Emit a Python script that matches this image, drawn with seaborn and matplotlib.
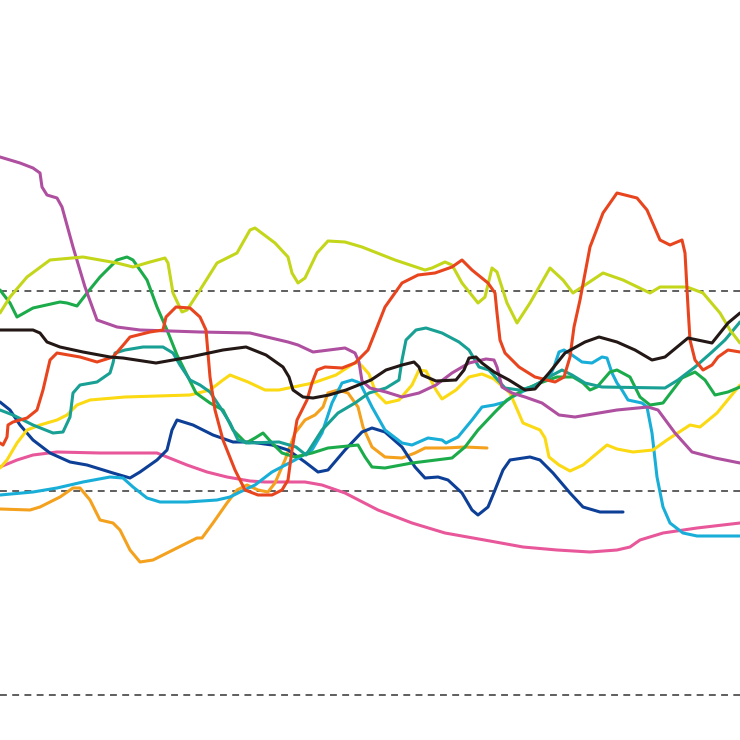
import matplotlib
matplotlib.use("Agg")
import matplotlib.pyplot as plt
import seaborn as sns

# x = week index, y = index value (reference lines at 100, 0, -102)
purple_x = [0, 2.0, 3.3, 4.0, 4.2, 4.7, 5.7, 6.2, 7.3, 8.5, 9.7, 11.7, 14.0, 20.0, 25.0, 28.8, 29.8, 31.3, 34.5, 35.5,
            35.9, 36.2, 37.0, 38.6, 40.2, 41.9, 43.6, 45.2, 46.9, 48.6, 49.4, 49.7, 50.2, 51.2, 52.5, 54.2, 55.9, 57.5,
            61.7, 64.8, 65.8, 67.5, 69.2, 71.5, 74.0]
purple_y = [167, 164, 161.5, 159, 152, 148, 146.5, 142, 122, 102, 85.5, 82, 80.5, 79.5, 79, 74.5, 73, 69.5, 71.5, 69,
            64.5, 55, 51.5, 49.5, 47, 49, 53, 59, 64, 66, 65.5, 62, 52, 49, 47, 44, 38, 37,
            40.5, 42, 40.5, 29, 19.5, 16.5, 14]

lime_x = [0, 1.0, 2.7, 5.0, 8.3, 11.7, 13.3, 15.0, 16.5, 16.8, 17.3, 18.2, 18.7, 20.0, 21.7, 23.7, 25.0, 25.5, 27.5,
          28.8, 29.2, 29.8, 30.5, 31.7, 32.8, 34.5, 36.2, 39.5, 42.5, 43.2, 44.5, 45.2, 46.2, 47.8, 48.5, 49.2, 49.7,
          50.7, 51.7, 53.0, 55.0, 56.3, 57.3, 60.3, 62.3, 65.0, 66.0, 68.7, 70.3, 72.0, 73.0, 74.0]
lime_y = [89, 97, 107, 115.5, 117, 114, 112, 114.5, 116.5, 114, 99, 89.5, 90.5, 100.5, 114, 119, 130.5, 131.5, 124,
          117, 109, 104, 106.5, 119, 125, 124.5, 122, 115.5, 110.5, 111.5, 114.5, 113, 104, 94, 97, 111.5, 109.5,
          94, 84, 94, 111.5, 105.5, 99, 109, 105.5, 99, 102, 102, 99, 89, 80.5, 74]

red_x = [0, 0.3, 0.7, 0.8, 1.3, 2.7, 3.7, 4.3, 5.0, 5.7, 8.0, 9.7, 11.3, 12.5, 13.0, 15.0, 16.3, 16.6, 17.6, 19.0,
         20.0, 20.6, 21.0, 21.5, 22.3, 23.5, 24.5, 25.8, 27.2, 28.2, 28.8, 29.2, 29.7, 30.7, 31.2, 31.7, 32.5, 34.2,
         35.5, 36.8, 37.2, 38.5, 40.2, 41.8, 43.5, 45.2, 46.2, 47.2, 48.8, 49.5, 49.7, 50.0, 50.5, 51.9, 53.5, 55.5,
         56.4, 57.0, 57.4, 58.0, 59.0, 60.3, 61.7, 63.7, 64.7, 66.0, 67.0, 68.2, 68.5, 68.8, 69.0, 69.5, 70.3, 71.2,
         71.8, 72.8, 74.0]
red_y = [24, 23, 27, 33, 34.5, 36.5, 40.5, 50.5, 65.5, 69, 67, 64.5, 67, 74, 77, 79.5, 80.5, 87, 92, 91.5,
         87, 80.5, 57, 40.5, 25.5, 10.5, 0.5, -2, -2, 0.5, 5.5, 20.5, 35.5, 45.5, 54, 60.5, 62, 61.5,
         64, 70.5, 75.5, 92, 104, 108, 109, 112, 115.5, 110.5, 104, 99, 89, 75.5, 69, 62, 57, 54.5,
         57, 67, 82, 95.5, 122, 139, 149, 146.5, 140.5, 125.5, 123, 125.5, 119, 92, 75.5, 65.5, 60.5, 63,
         67, 70.5, 69.5]

black_x = [0, 3.3, 4.0, 4.7, 6.0, 8.3, 11.0, 12.3, 15.6, 19.0, 22.3, 24.6, 26.6, 28.3, 28.9, 29.3, 30.3, 31.3, 32.9,
           34.6, 37.1, 38.6, 40.2, 41.4, 41.9, 42.2, 43.6, 45.6, 46.4, 46.9, 47.6, 48.2, 49.4, 50.9, 52.5, 53.5, 54.9,
           56.5, 58.5, 59.9, 61.7, 63.5, 65.2, 66.5, 68.8, 71.2, 72.8, 74.0]
black_y = [80.5, 80.5, 79, 74.5, 72, 69.5, 67, 66.5, 64, 67, 70.5, 72, 68, 62, 57, 50.5, 47, 46.5, 48,
           50.5, 55.5, 60.5, 63, 64.5, 62, 58, 55, 55.5, 60.5, 66.5, 67, 64, 59.5, 55.5, 50.5, 51, 59,
           69, 74.5, 77, 74.5, 70.5, 65.5, 67, 76.5, 74, 84, 89]

teal_x = [0, 1.3, 3.3, 5.3, 6.3, 7.0, 7.3, 8.0, 9.7, 11.0, 11.3, 11.5, 12.5, 14.3, 16.3, 17.3, 18.0, 19.0, 20.0, 21.0,
          22.0, 23.0, 23.8, 24.8, 27.9, 29.6, 30.6, 32.2, 33.8, 35.5, 36.9, 38.6, 39.9, 40.2, 40.6, 41.6, 42.6, 44.2,
          45.9, 46.9, 47.9, 48.9, 50.5, 51.9, 53.2, 54.9, 56.2, 57.2, 58.5, 60.2, 66.5, 67.8, 69.5, 71.2, 72.5, 74.0]
teal_y = [40.5, 38, 33, 29, 29.5, 37, 49, 53, 54.5, 59, 64, 69, 70.5, 72, 72, 69, 63, 55.5, 53, 49.5,
          42, 34, 25.5, 24, 24.5, 22, 18, 30.5, 39, 44, 49, 51.5, 55.5, 65.5, 75.5, 80.5, 81.5, 79,
          74.5, 70.5, 62, 60.5, 51.5, 50.5, 52, 57, 60.5, 58, 54, 52, 51.5, 55.5, 62, 69.5, 75.5, 84.5]

green_x = [0, 1.0, 1.7, 3.3, 6.0, 6.7, 7.7, 8.7, 10.0, 11.7, 12.7, 13.3, 14.7, 15.7, 16.7, 17.7, 18.6, 19.6, 21.0,
           22.3, 23.3, 24.6, 25.5, 26.3, 27.2, 28.2, 29.5, 31.2, 32.8, 35.8, 36.5, 37.2, 38.5, 41.2, 45.2, 46.5, 47.8,
           49.5, 50.7, 52.3, 54.0, 55.7, 57.3, 58.3, 59.0, 59.7, 61.0, 61.7, 63.0, 64.0, 65.0, 66.3, 68.2, 69.5, 70.5,
           71.5, 72.8, 74.0]
green_y = [100.5, 94, 87, 91.5, 94.5, 94, 92.5, 99, 107, 115.5, 117, 115.5, 105.5, 92, 80.5, 68, 59, 49, 44,
           40.5, 30.5, 24, 26.5, 29, 24, 19, 17, 19, 21.5, 23, 17, 12, 11.5, 14, 16.5, 22, 30.5,
           39.5, 45.5, 50.5, 54, 57, 57, 54, 50.5, 52, 59.5, 60.5, 57, 47, 43, 44, 56.5, 59.5, 55.5,
           48, 49.5, 52]

yellow_x = [0, 0.7, 1.7, 2.7, 4.0, 5.7, 6.7, 7.7, 9.0, 12.5, 19.0, 21.0, 22.3, 23.0, 24.8, 26.5, 27.9, 31.3, 33.6,
            35.6, 36.1, 36.9, 37.6, 38.6, 39.9, 41.2, 41.9, 42.6, 43.6, 44.2, 45.6, 46.9, 48.2, 49.4, 51.0, 52.3,
            54.0, 54.5, 54.9, 55.9, 57.0, 58.3, 60.7, 61.7, 63.3, 65.3, 66.7, 69.0, 70.0, 71.7, 74.0]
yellow_y = [11.5, 15.5, 24, 30.5, 33, 35.5, 38, 43, 45.5, 47, 48, 50.5, 55.5, 58, 54.5, 50.5, 50.5, 54, 58,
            64.5, 63, 58.5, 49, 44, 45.5, 53, 60.5, 60, 50.5, 46, 50.5, 57, 58.5, 56, 49, 34,
            30.5, 26.5, 17, 13, 10, 13, 23, 21, 19.5, 20.5, 25.5, 33, 32, 39, 53]

blue_x = [0, 1.0, 2.0, 3.3, 5.0, 7.0, 8.7, 11.3, 13.0, 14.0, 15.7, 16.7, 17.2, 17.7, 19.3, 21.3, 23.3, 25.0, 27.2,
          28.8, 30.5, 31.8, 32.8, 34.5, 36.2, 37.2, 38.5, 40.2, 41.5, 42.5, 43.8, 44.8, 46.2, 47.2, 47.8, 48.8, 49.5,
          50.3, 51.0, 53.0, 54.0, 55.3, 57.0, 58.3, 60.0, 62.3]
blue_y = [44.5, 40.5, 33, 25.5, 19, 14.5, 13, 9, 6.5, 9.5, 15.5, 20.5, 30.5, 35.5, 33, 28, 24.5, 24.5, 23,
          20.5, 14.5, 9.5, 10.5, 20.5, 29.5, 31.5, 29.5, 22, 12, 6.5, 7, 5.5, -1, -9.5, -12, -8, 0.5,
          10.5, 15.5, 17, 15.5, 9, -1, -8, -10.5, -10.5]

pink_x = [0, 1.7, 3.3, 5.7, 10.0, 15.7, 16.7, 18.7, 20.7, 22.7, 25.0, 26.5, 30.5, 32.2, 34.5, 37.8, 41.2, 44.5, 49.0,
          52.3, 55.7, 59.0, 61.7, 63.0, 64.0, 66.3, 69.7, 74.0]
pink_y = [12, 15.5, 18, 19.5, 19, 19, 17, 13, 9.5, 7, 5, 4.5, 4.5, 3, -1, -9.5, -16, -21, -25,
          -28, -29.5, -30.5, -29.5, -28, -24.5, -21, -18.5, -16]

cyan_x = [0, 3.3, 5.7, 8.3, 11.0, 12.3, 13.3, 14.7, 16.0, 18.7, 21.7, 23.0, 24.0, 25.5, 27.2, 29.5, 31.2, 32.2, 33.2,
          34.2, 35.2, 36.0, 37.2, 38.5, 40.2, 41.2, 42.8, 44.2, 44.6, 45.8, 47.2, 48.2, 49.4, 50.5, 51.2, 54.9, 55.4,
          55.9, 56.4, 57.2, 58.2, 59.2, 60.2, 60.7, 61.2, 61.7, 62.2, 62.8, 64.2, 64.7, 65.2, 65.7, 66.3, 67.0, 68.3,
          69.7, 74.0]
cyan_y = [-2, -0.5, 1.5, 4.5, 7, 6.5, 2, -3.5, -5.5, -5.5, -4.5, -3, -0.5, 3, 9.5, 15.5, 20.5, 29, 44,
          54, 55.5, 54, 42, 30.5, 24, 23, 26.5, 25.5, 24, 27, 35.5, 42, 43, 44.5, 47, 56.5, 62,
          69.5, 70.5, 68, 64.5, 64, 67, 66.5, 59, 54, 50.5, 45.5, 44, 42, 29, 7, -8, -16, -21,
          -22.5, -22.5]

orange_x = [0, 3.0, 4.0, 6.0, 7.3, 8.0, 9.0, 10.0, 11.3, 12.0, 13.0, 14.0, 15.3, 17.3, 19.7, 20.2, 21.3, 22.7, 23.7,
            24.7, 25.8, 26.8, 27.5, 28.5, 29.5, 30.5, 31.5, 32.3, 32.8, 33.8, 34.8, 35.8, 36.3, 37.2, 38.5, 40.2,
            41.5, 42.5, 44.5, 46.5, 48.7]
orange_y = [-9, -9.5, -8, -3, 1.5, 1.5, -4.5, -14.5, -16, -19.5, -29.5, -35.5, -34.5, -29.5, -23.5, -23.5, -16, -6, 0.5,
            3, 0.5, -0.5, 4, 15.5, 29, 35.5, 38, 42, 49, 50.5, 49, 42, 32, 22, 17, 16.5,
            19, 21.5, 21.5, 22, 21.5]

ref_levels = [100, 0, -102]

series = [
    (pink_x, pink_y, "#e8579a"),
    (orange_x, orange_y, "#f4a11d"),
    (blue_x, blue_y, "#0d3f97"),
    (cyan_x, cyan_y, "#18aed8"),
    (yellow_x, yellow_y, "#fbd913"),
    (green_x, green_y, "#1cab4a"),
    (teal_x, teal_y, "#17a093"),
    (purple_x, purple_y, "#ae4f9f"),
    (lime_x, lime_y, "#c3d61a"),
    (red_x, red_y, "#e8451f"),
    (black_x, black_y, "#231815"),
]

sns.set_style("white")
fig = plt.figure(figsize=(7.4, 7.4), dpi=100)
ax = fig.add_axes([0, 0, 1, 1])

for lvl in ref_levels:
    ax.axhline(lvl, color="#333333", linewidth=1.1, linestyle=(0, (4.5, 3.5)), zorder=1)

for xs, ys, col in series:
    sns.lineplot(x=xs, y=ys, color=col, linewidth=2.2, estimator=None, sort=False, ax=ax,
                 solid_joinstyle="round", solid_capstyle="round", zorder=2)

ax.set_xlim(0, 74)
ax.set_ylim(-124.5, 245.5)
ax.axis("off")

fig.savefig("out.png", dpi=100)
